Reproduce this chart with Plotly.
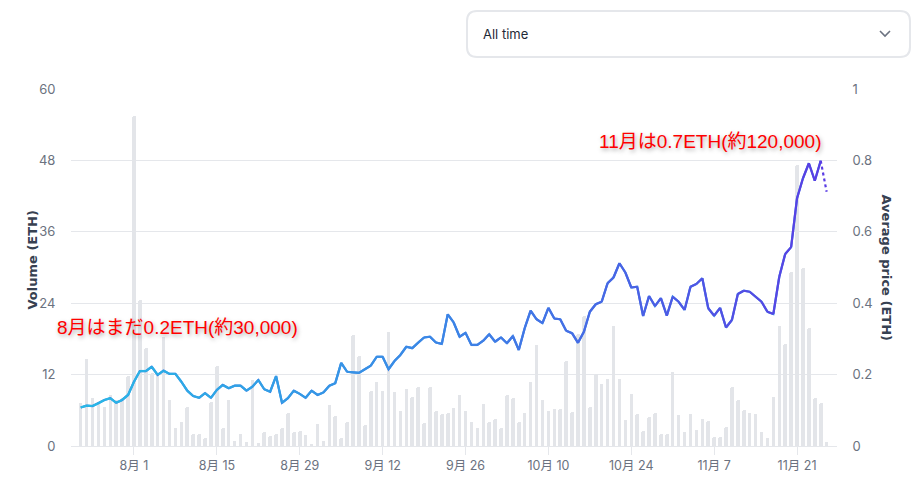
import plotly.graph_objects as go
import pandas as pd

# ---------------- data ----------------
dates = pd.date_range("2021-07-23", periods=127, freq="D")

volume = [
    7.3, 14.6, 8.0, 7.4, 6.6, 8.6, 7.7, 8.0, 11.8, 55.5,
    24.6, 16.4, 12.2, 12.2, 18.4, 7.8, 3.0, 4.1, 6.6, 2.1,
    2.1, 1.3, 7.4, 13.4, 3.1, 7.8, 0.8, 2.1, 0.6, 11.1,
    0.5, 2.3, 1.7, 2.1, 3.1, 5.5, 2.3, 2.5, 1.8, 0.3,
    3.7, 0.8, 6.9, 5.0, 1.3, 4.1, 18.7, 15.2, 3.6, 9.3,
    10.8, 9.3, 19.2, 9.0, 5.9, 9.6, 8.3, 10.0, 3.8, 10.0,
    5.8, 5.3, 5.5, 6.4, 8.5, 5.9, 4.0, 3.1, 7.0, 4.0,
    4.6, 3.0, 8.5, 8.1, 4.0, 5.5, 10.8, 16.9, 7.7, 5.8,
    6.3, 6.3, 14.3, 5.7, 18.8, 21.9, 6.6, 12.1, 10.4, 11.2,
    20.2, 11.3, 4.4, 8.8, 5.4, 2.5, 4.9, 5.5, 2.0, 2.1,
    12.5, 5.2, 2.3, 5.4, 2.7, 4.6, 4.2, 1.5, 1.5, 3.2,
    9.9, 7.7, 6.1, 5.5, 5.4, 2.3, 1.4, 8.3, 20.2, 17.1,
    29.3, 47.2, 29.9, 19.8, 8.0, 7.2, 0.6,
]

avg_price = [
    0.108, 0.113, 0.112, 0.120, 0.129, 0.134, 0.121, 0.129, 0.143, 0.180,
    0.210, 0.210, 0.222, 0.199, 0.211, 0.202, 0.202, 0.180, 0.155, 0.140,
    0.135, 0.148, 0.135, 0.157, 0.171, 0.162, 0.169, 0.169, 0.155, 0.166,
    0.185, 0.159, 0.152, 0.196, 0.121, 0.134, 0.155, 0.146, 0.135, 0.155,
    0.143, 0.150, 0.169, 0.176, 0.233, 0.208, 0.206, 0.205, 0.215, 0.225,
    0.250, 0.250, 0.215, 0.238, 0.255, 0.278, 0.274, 0.290, 0.304, 0.306,
    0.290, 0.286, 0.369, 0.346, 0.306, 0.317, 0.283, 0.283, 0.295, 0.313,
    0.292, 0.304, 0.288, 0.308, 0.269, 0.330, 0.379, 0.355, 0.344, 0.387,
    0.357, 0.355, 0.323, 0.316, 0.289, 0.320, 0.376, 0.397, 0.404, 0.456,
    0.472, 0.512, 0.486, 0.444, 0.446, 0.364, 0.420, 0.392, 0.414, 0.365,
    0.418, 0.404, 0.381, 0.446, 0.454, 0.470, 0.386, 0.365, 0.387, 0.332,
    0.353, 0.426, 0.435, 0.432, 0.418, 0.404, 0.376, 0.370, 0.474, 0.538,
    0.557, 0.694, 0.750, 0.792, 0.743, 0.799, 0.712,
]

tick_dates = ["2021-08-01", "2021-08-15", "2021-08-29", "2021-09-12", "2021-09-26",
              "2021-10-10", "2021-10-24", "2021-11-07", "2021-11-21"]
tick_labels = ["8月 1", "8月 15", "8月 29", "9月 12", "9月 26",
               "10月 10", "10月 24", "11月 7", "11月 21"]

vol_ticks = [0, 12, 24, 36, 48, 60]
price_ticks = [0, 0.2, 0.4, 0.6, 0.8, 1]
price_tick_text = ["0", "0.2", "0.4", "0.6", "0.8", "1"]

note_aug = "8月はまだ0.2ETH(約30,000)"
note_nov = "11月は0.7ETH(約120,000)"
dropdown_label = "All time"

# ---------------- layout geometry (pixels) ----------------
W, H = 921, 487
L, R, T, B = 71, 837, 89, 446
PW, PH = R - L, B - T


def px(xp):
    return (xp - L) / PW


def py(yp):
    return (B - yp) / PH


# gradient stops for the price line
stops = [(0.0, (40, 186, 230)), (0.5, (60, 132, 230)), (1.0, (90, 60, 228))]


def grad(t):
    for (t0, c0), (t1, c1) in zip(stops[:-1], stops[1:]):
        if t <= t1:
            f = (t - t0) / (t1 - t0)
            c = [round(a + (b - a) * f) for a, b in zip(c0, c1)]
            return "rgb(%d,%d,%d)" % tuple(c)
    return "rgb(%d,%d,%d)" % stops[-1][1]


fig = go.Figure()

fig.add_trace(go.Bar(
    x=dates, y=volume, yaxis="y",
    marker=dict(color="#e3e5e9", cornerradius="50%", line=dict(width=0)),
    width=0.6 * 86400000,
    hoverinfo="skip",
))

n = len(avg_price)
# base line to fill joints
fig.add_trace(go.Scatter(
    x=dates[:-1], y=avg_price[:-1], yaxis="y2", mode="lines",
    line=dict(color=grad(0.5), width=2.2), hoverinfo="skip",
))
for i in range(n - 2):
    t = (i + 0.5) / (n - 1)
    fig.add_trace(go.Scatter(
        x=dates[i:i + 2], y=avg_price[i:i + 2], yaxis="y2", mode="lines",
        line=dict(color=grad(t), width=2.2), hoverinfo="skip",
    ))
# last (incomplete) period drawn dotted
fig.add_trace(go.Scatter(
    x=dates[n - 2:], y=avg_price[n - 2:], yaxis="y2", mode="lines",
    line=dict(color=grad(1.0), width=2.2, dash="dot"), hoverinfo="skip",
))

axis_font = dict(family="Inter, Noto Sans CJK JP, sans-serif", size=13, color="#6b7280")

fig.update_layout(
    width=W, height=H,
    margin=dict(l=L, r=W - R, t=T, b=H - B),
    paper_bgcolor="white", plot_bgcolor="white",
    showlegend=False, hovermode=False, bargap=0,
    xaxis=dict(
        type="date",
        range=["2021-07-21 08:40", "2021-11-27 18:00"],
        tickvals=tick_dates, ticktext=tick_labels,
        tickfont=dict(family="Inter, Noto Sans CJK JP, sans-serif", size=12.5, color="#6b7280"),
        showgrid=False, zeroline=False,
        showline=True, linecolor="#e5e7eb", linewidth=1,
        ticks="outside", ticklen=8, tickcolor="#e5e7eb", tickwidth=1,
        fixedrange=True,
    ),
    yaxis=dict(
        range=[0, 60], tickvals=vol_ticks,
        tickfont=axis_font,
        showgrid=True, gridcolor="#e5e7eb", gridwidth=1,
        zeroline=False, showline=False,
        ticks="outside", ticklen=12, tickcolor="rgba(0,0,0,0)",
        fixedrange=True,
    ),
    yaxis2=dict(
        range=[0, 1], tickvals=price_ticks, ticktext=price_tick_text,
        overlaying="y", side="right",
        tickfont=axis_font,
        showgrid=False, zeroline=False, showline=False,
        ticks="outside", ticklen=12, tickcolor="rgba(0,0,0,0)",
        fixedrange=True,
    ),
)

title_font = dict(family="DejaVu Sans, sans-serif", size=13, color="#374151")
note_font = dict(family="Liberation Sans, Noto Sans CJK JP, sans-serif", size=19,
                 color="#ff0000", shadow="1px 2px 4px rgba(0,0,0,0.35)")

annotations = [
    dict(text="<b>Volume (ETH)</b>", x=px(22), y=py(260), xref="paper", yref="paper",
         textangle=-90, showarrow=False, font=title_font),
    dict(text="<b>Average price (ETH)</b>", x=px(896), y=py(267), xref="paper", yref="paper",
         textangle=90, showarrow=False, font=title_font),
    dict(text=note_aug, x=px(55), y=py(327), xref="paper", yref="paper",
         xanchor="left", yanchor="middle", showarrow=False, font=note_font),
    dict(text=note_nov, x=px(597), y=py(141), xref="paper", yref="paper",
         xanchor="left", yanchor="middle", showarrow=False, font=note_font),
    dict(text=dropdown_label, x=px(481), y=py(34), xref="paper", yref="paper",
         xanchor="left", yanchor="middle", showarrow=False,
         font=dict(family="Inter, sans-serif", size=13, color="#1f2937")),
]
fig.update_layout(annotations=annotations)

# dropdown box (rounded rectangle) and chevron
x0, y0, x1, y1, r = 467, 11, 910, 57, 10


def P(a, b):
    return "%f,%f" % (px(a), py(b))


box = ("M " + P(x0 + r, y0) + " L " + P(x1 - r, y0) + " Q " + P(x1, y0) + " " + P(x1, y0 + r) +
       " L " + P(x1, y1 - r) + " Q " + P(x1, y1) + " " + P(x1 - r, y1) +
       " L " + P(x0 + r, y1) + " Q " + P(x0, y1) + " " + P(x0, y1 - r) +
       " L " + P(x0, y0 + r) + " Q " + P(x0, y0) + " " + P(x0 + r, y0) + " Z")
chev = "M " + P(880, 31) + " L " + P(885, 36) + " L " + P(890, 31)

fig.update_layout(shapes=[
    dict(type="path", path=box, xref="paper", yref="paper",
         line=dict(color="#e5e7eb", width=2), fillcolor="white", layer="above"),
    dict(type="path", path=chev, xref="paper", yref="paper",
         line=dict(color="#6b7280", width=1.6), layer="above"),
])

fig.write_html("out.html")
